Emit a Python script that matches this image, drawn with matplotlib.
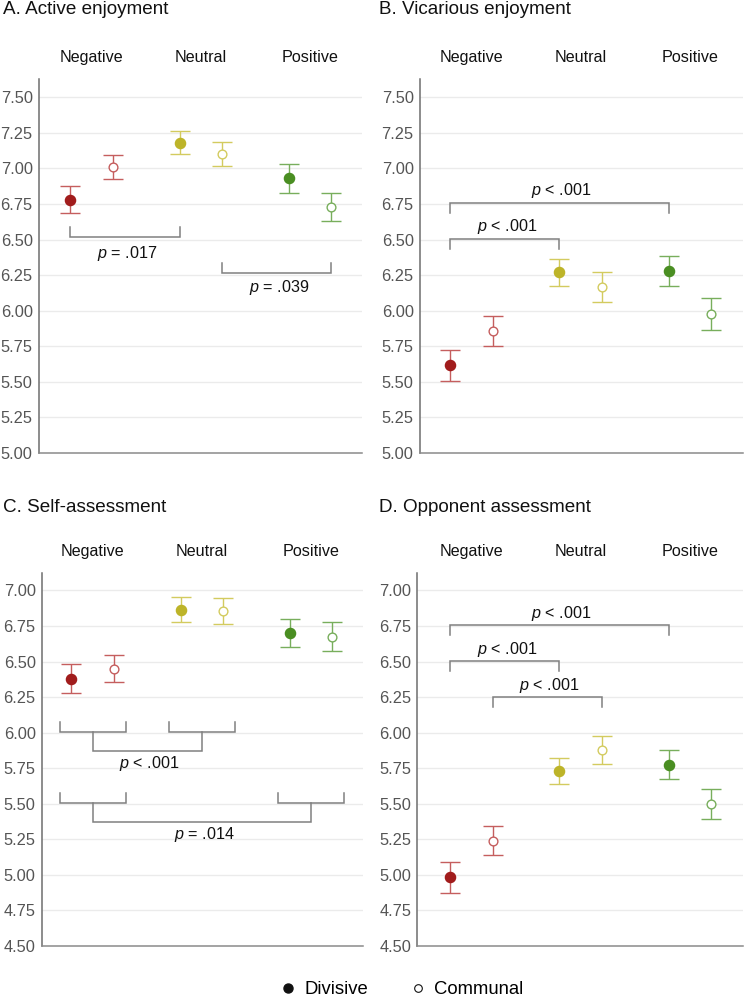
import matplotlib
matplotlib.use("Agg")
import matplotlib.pyplot as plt
from matplotlib.lines import Line2D
import numpy as np

plt.rcParams["font.family"] = ["Liberation Sans", "DejaVu Sans"]
plt.rcParams["mathtext.fontset"] = "custom"
plt.rcParams["mathtext.it"] = "Liberation Sans:italic"
plt.rcParams["mathtext.rm"] = "Liberation Sans"

categories = ["Negative", "Neutral", "Positive"]
titles = ["A. Active enjoyment", "B. Vicarious enjoyment",
          "C. Self-assessment", "D. Opponent assessment"]

# means and error half-widths, order: Negative, Neutral, Positive
active_div = [6.78, 7.18, 6.93]
active_div_err = [0.095, 0.08, 0.10]
active_com = [7.01, 7.10, 6.73]
active_com_err = [0.085, 0.085, 0.10]

vicarious_div = [5.615, 6.27, 6.28]
vicarious_div_err = [0.11, 0.093, 0.107]
vicarious_com = [5.86, 6.165, 5.975]
vicarious_com_err = [0.105, 0.105, 0.112]

self_div = [6.38, 6.865, 6.70]
self_div_err = [0.10, 0.087, 0.10]
self_com = [6.45, 6.855, 6.675]
self_com_err = [0.093, 0.09, 0.10]

opp_div = [4.98, 5.73, 5.775]
opp_div_err = [0.107, 0.092, 0.105]
opp_com = [5.24, 5.875, 5.50]
opp_com_err = [0.10, 0.098, 0.105]

# simple brackets: (group1, member1, group2, member2, label)
active_brackets = [(0, 0, 1, 0, "$p$ = .017"), (1, 1, 2, 1, "$p$ = .039")]
vicarious_brackets = [(0, 0, 1, 0, "$p$ < .001"), (0, 0, 2, 0, "$p$ < .001")]
opp_brackets = [(0, 0, 2, 0, "$p$ < .001"), (0, 0, 1, 0, "$p$ < .001"),
                (0, 1, 1, 1, "$p$ < .001")]
# nested group brackets for self-assessment: (group a, group b, label)
self_brackets = [(0, 1, "$p$ < .001"), (0, 2, "$p$ = .014")]

dark = ["#a11c1c", "#bdb429", "#4a8e22"]
light = ["#c55e5e", "#d3cb5f", "#78ae5c"]
gray = "#808080"

gstep = 2.58


def xpos(g, m):
    return g * gstep + m


fig = plt.figure(figsize=(7.46, 9.99), dpi=100)
W, H = 746, 999


def make_ax(l, r, t, b):
    return fig.add_axes([l / W, 1 - b / H, (r - l) / W, (b - t) / H])


axA = make_ax(38.7, 362, 79.5, 453)
axB = make_ax(419.7, 743, 79.5, 453)
axC = make_ax(41.7, 363, 572.7, 945.7)
axD = make_ax(417.3, 743, 572.7, 945.7)

panels = [
    (axA, active_div, active_div_err, active_com, active_com_err, (5.0, 7.625), (-0.745, 6.885)),
    (axB, vicarious_div, vicarious_div_err, vicarious_com, vicarious_com_err, (5.0, 7.625), (-0.723, 6.916)),
    (axC, self_div, self_div_err, self_com, self_com_err, (4.5, 7.125), (-0.70, 6.88)),
    (axD, opp_div, opp_div_err, opp_com, opp_com_err, (4.5, 7.125), (-0.78, 6.92)),
]

title_pos = [(3, 14.5), (378.7, 14.5), (3, 511.7), (378.7, 511.7)]

for i, (ax, dv, de, cv, ce, ylim, xlim) in enumerate(panels):
    ax.set_ylim(*ylim)
    ax.set_xlim(*xlim)
    ticks = np.arange(ylim[0], ylim[1], 0.25)
    ax.set_yticks(ticks)
    ax.set_yticklabels([f"{t:.2f}" for t in ticks], color="#555555", fontsize=11.8)
    ax.tick_params(axis="y", length=0, pad=4.3)
    ax.set_xticks([])
    for t in ticks[1:]:
        ax.axhline(t, color="#ebebeb", lw=1, zorder=0)
    for s in ["top", "right"]:
        ax.spines[s].set_visible(False)
    ax.spines["left"].set_color("#6e6e6e")
    ax.spines["bottom"].set_color("#8a8a8a")
    ax.spines["left"].set_linewidth(1.1)
    ax.spines["bottom"].set_linewidth(1.1)

    for g in range(3):
        ax.errorbar(xpos(g, 0), dv[g], yerr=de[g], fmt="o", color=light[g],
                    mfc=dark[g], mec=dark[g], ms=7.3, capsize=7, elinewidth=1,
                    capthick=1, zorder=3)
        ax.errorbar(xpos(g, 1), cv[g], yerr=ce[g], fmt="o", color=light[g],
                    mfc="white", mec=light[g], mew=1, ms=6.3, capsize=7,
                    elinewidth=1, capthick=1, zorder=3)
        ax.text(xpos(g, 0.5), ylim[1] + 0.12, categories[g], ha="center",
                va="baseline", fontsize=11.6, color="#111111", clip_on=False)

    tx, ty = title_pos[i]
    fig.text(tx / W, 1 - ty / H, titles[i], fontsize=13.6, ha="left",
             va="baseline", color="#111111")


def bracket(ax, x1, x2, y, h, label=None, ty=None):
    ax.plot([x1, x1, x2, x2], [y + h, y, y, y + h], color=gray, lw=1.1,
            solid_joinstyle="miter", zorder=2)
    if label:
        ax.text((x1 + x2) / 2 + 0.05, ty, label, ha="center", va="center",
                fontsize=11.6, color="#111111")


# A: ticks pointing up, label below
bracket(axA, xpos(0, 0), xpos(1, 0), 6.515, 0.07, active_brackets[0][4], 6.405)
bracket(axA, xpos(1, 1), xpos(2, 1), 6.266, 0.07, active_brackets[1][4], 6.16)

# B: ticks pointing down, label above
for (g1, m1, g2, m2, lab), y in zip(vicarious_brackets, [6.503, 6.756]):
    bracket(axB, xpos(g1, m1), xpos(g2, m2), y, -0.07, lab, y + 0.088)

# D
for (g1, m1, g2, m2, lab), y in zip(opp_brackets, [6.758, 6.505, 6.249]):
    bracket(axD, xpos(g1, m1), xpos(g2, m2), y, -0.07, lab, y + 0.08)

# C: nested brackets
half = 0.78
for (ga, gb, lab), y in zip(self_brackets, [6.003, 5.503]):
    ca, cb = xpos(ga, 0.5), xpos(gb, 0.5)
    bracket(axC, ca - half, ca + half, y, 0.07)
    bracket(axC, cb - half, cb + half, y, 0.07)
    bracket(axC, ca, cb, y - 0.13, 0.13, lab, y - 0.22)

handles = [
    Line2D([], [], marker="o", ls="", color="#111111", ms=6.5),
    Line2D([], [], marker="o", ls="", mfc="white", mec="#111111", mew=0.8, ms=5.5),
]
fig.legend(handles, ["Divisive", "Communal"], loc="center",
           bbox_to_anchor=(401 / W, 1 - 990 / H), ncol=2, frameon=False,
           fontsize=13.3, handlelength=1, handletextpad=0.4, columnspacing=2.2)

fig.savefig("out.png", dpi=100)
